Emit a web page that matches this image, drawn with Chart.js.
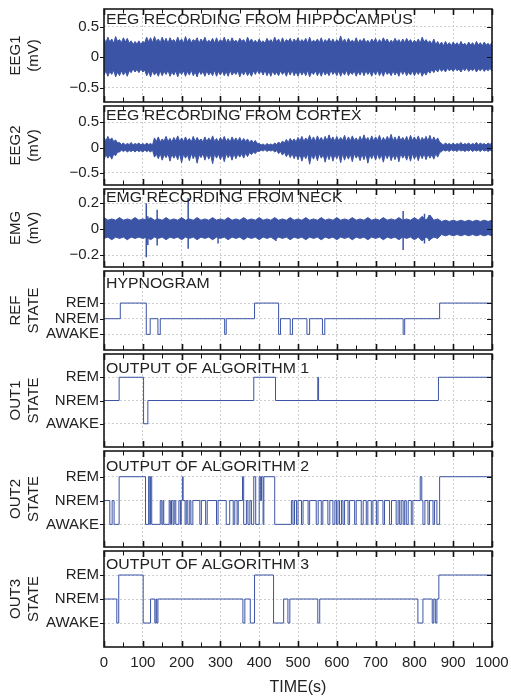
<!DOCTYPE html>
<html>
<head>
<meta charset="utf-8">
<script src="https://cdn.jsdelivr.net/npm/chart.js@4.4.0/dist/chart.umd.min.js"></script>
<style>
  html, body { margin: 0; padding: 0; background: #fff; }
  #wrap { position: relative; width: 511px; height: 698px; overflow: hidden; }
  #wrap canvas { position: absolute; left: 0; }
</style>
</head>
<body>
<div id="wrap"></div>
<script>
// ---- data ----
// envelopes of the raw EEG traces, one value every 5 s from 0 to 1000 s
const eegTimes = Array.from({ length: 201 }, (_, i) => i * 5);

const eeg1Upper = [
  0.31, 0.24, 0.33, 0.25, 0.30, 0.23, 0.34, 0.26, 0.29, 0.24, 0.32, 0.25, 0.31, 0.23, 0.27, 0.21, 0.26, 0.22, 0.27, 0.21,
  0.26, 0.24, 0.33, 0.25, 0.32, 0.24, 0.34, 0.26, 0.30, 0.24, 0.33, 0.25, 0.31, 0.23, 0.32, 0.26, 0.29, 0.24, 0.33, 0.25,
  0.30, 0.23, 0.34, 0.25, 0.31, 0.24, 0.29, 0.26, 0.32, 0.23, 0.30, 0.25, 0.33, 0.24, 0.28, 0.25, 0.31, 0.23, 0.32, 0.24,
  0.29, 0.25, 0.33, 0.24, 0.30, 0.23, 0.32, 0.25, 0.28, 0.24, 0.31, 0.26, 0.29, 0.23, 0.33, 0.25, 0.30, 0.24, 0.28, 0.23,
  0.30, 0.24, 0.27, 0.23, 0.31, 0.25, 0.29, 0.24, 0.33, 0.25, 0.30, 0.23, 0.32, 0.24, 0.29, 0.26, 0.31, 0.23, 0.30, 0.25,
  0.32, 0.24, 0.29, 0.25, 0.31, 0.23, 0.33, 0.24, 0.28, 0.25, 0.30, 0.24, 0.32, 0.23, 0.29, 0.25, 0.31, 0.24, 0.30, 0.23,
  0.29, 0.25, 0.35, 0.24, 0.30, 0.23, 0.31, 0.25, 0.28, 0.24, 0.32, 0.23, 0.29, 0.25, 0.31, 0.24, 0.28, 0.23, 0.30, 0.25,
  0.31, 0.23, 0.29, 0.24, 0.32, 0.25, 0.30, 0.23, 0.28, 0.24, 0.31, 0.25, 0.29, 0.23, 0.30, 0.24, 0.31, 0.25, 0.29, 0.23,
  0.28, 0.24, 0.30, 0.23, 0.33, 0.25, 0.29, 0.24, 0.27, 0.22, 0.30, 0.21, 0.26, 0.20, 0.25, 0.19, 0.26, 0.20, 0.24, 0.19,
  0.25, 0.20, 0.24, 0.19, 0.26, 0.20, 0.23, 0.19, 0.25, 0.20, 0.24, 0.19, 0.26, 0.20, 0.24, 0.19, 0.25, 0.20, 0.23, 0.19, 0.25];
const eeg1Lower = [
  -0.29, -0.22, -0.31, -0.23, -0.28, -0.21, -0.32, -0.24, -0.30, -0.22, -0.29, -0.23, -0.31, -0.22, -0.25, -0.19, -0.24, -0.20, -0.25, -0.19,
  -0.24, -0.21, -0.30, -0.23, -0.32, -0.22, -0.29, -0.24, -0.31, -0.22, -0.30, -0.23, -0.28, -0.21, -0.31, -0.24, -0.29, -0.22, -0.32, -0.23,
  -0.28, -0.22, -0.31, -0.23, -0.29, -0.21, -0.30, -0.24, -0.32, -0.22, -0.28, -0.23, -0.31, -0.22, -0.29, -0.24, -0.30, -0.21, -0.31, -0.23,
  -0.29, -0.22, -0.30, -0.23, -0.31, -0.21, -0.29, -0.24, -0.28, -0.22, -0.32, -0.23, -0.29, -0.22, -0.30, -0.24, -0.31, -0.22, -0.28, -0.21,
  -0.27, -0.22, -0.29, -0.21, -0.30, -0.23, -0.31, -0.22, -0.29, -0.24, -0.30, -0.22, -0.28, -0.23, -0.31, -0.22, -0.29, -0.21, -0.30, -0.23,
  -0.31, -0.22, -0.29, -0.23, -0.30, -0.21, -0.32, -0.24, -0.28, -0.22, -0.30, -0.23, -0.31, -0.22, -0.29, -0.24, -0.30, -0.21, -0.28, -0.23,
  -0.30, -0.22, -0.31, -0.23, -0.29, -0.21, -0.30, -0.24, -0.28, -0.22, -0.31, -0.23, -0.29, -0.21, -0.30, -0.22, -0.28, -0.23, -0.31, -0.22,
  -0.29, -0.21, -0.30, -0.23, -0.31, -0.22, -0.28, -0.24, -0.30, -0.22, -0.29, -0.23, -0.31, -0.21, -0.28, -0.22, -0.30, -0.24, -0.29, -0.22,
  -0.30, -0.23, -0.28, -0.22, -0.31, -0.24, -0.29, -0.22, -0.26, -0.20, -0.25, -0.19, -0.24, -0.18, -0.23, -0.19, -0.24, -0.18, -0.22, -0.19,
  -0.23, -0.18, -0.22, -0.19, -0.24, -0.18, -0.22, -0.17, -0.23, -0.19, -0.22, -0.18, -0.24, -0.19, -0.22, -0.18, -0.23, -0.19, -0.22, -0.18, -0.23];

const eeg2Upper = [
  0.20, 0.13, 0.22, 0.14, 0.19, 0.12, 0.15, 0.09, 0.10, 0.06, 0.09, 0.05, 0.08, 0.06, 0.10, 0.05, 0.08, 0.06, 0.09, 0.05,
  0.08, 0.05, 0.09, 0.06, 0.08, 0.05, 0.19, 0.12, 0.21, 0.11, 0.17, 0.13, 0.22, 0.12, 0.18, 0.11, 0.20, 0.13, 0.23, 0.12,
  0.19, 0.12, 0.21, 0.13, 0.18, 0.11, 0.22, 0.12, 0.20, 0.13, 0.17, 0.11, 0.21, 0.12, 0.19, 0.13, 0.23, 0.12, 0.18, 0.11,
  0.20, 0.13, 0.22, 0.12, 0.18, 0.11, 0.21, 0.13, 0.19, 0.12, 0.20, 0.11, 0.18, 0.12, 0.17, 0.10, 0.15, 0.09, 0.14, 0.08,
  0.08, 0.05, 0.07, 0.04, 0.08, 0.05, 0.07, 0.05, 0.09, 0.06, 0.11, 0.07, 0.13, 0.09, 0.16, 0.10, 0.18, 0.12, 0.17, 0.11,
  0.20, 0.13, 0.22, 0.12, 0.19, 0.14, 0.24, 0.13, 0.21, 0.12, 0.23, 0.14, 0.20, 0.12, 0.22, 0.13, 0.25, 0.14, 0.21, 0.12,
  0.22, 0.13, 0.20, 0.14, 0.24, 0.12, 0.21, 0.13, 0.23, 0.14, 0.19, 0.12, 0.22, 0.13, 0.25, 0.14, 0.20, 0.12, 0.23, 0.13,
  0.21, 0.14, 0.24, 0.12, 0.20, 0.13, 0.22, 0.14, 0.26, 0.13, 0.21, 0.12, 0.23, 0.14, 0.20, 0.13, 0.22, 0.12, 0.24, 0.14,
  0.21, 0.13, 0.23, 0.12, 0.20, 0.14, 0.22, 0.13, 0.24, 0.12, 0.21, 0.13, 0.19, 0.11, 0.08, 0.05, 0.09, 0.06, 0.08, 0.05,
  0.09, 0.05, 0.08, 0.06, 0.10, 0.05, 0.08, 0.06, 0.09, 0.05, 0.08, 0.06, 0.10, 0.05, 0.09, 0.06, 0.08, 0.05, 0.09, 0.06, 0.10];
const eeg2Lower = [
  -0.24, -0.14, -0.21, -0.15, -0.23, -0.13, -0.16, -0.09, -0.09, -0.05, -0.08, -0.05, -0.09, -0.06, -0.08, -0.05, -0.09, -0.05, -0.08, -0.06,
  -0.09, -0.05, -0.08, -0.06, -0.09, -0.05, -0.19, -0.13, -0.22, -0.12, -0.25, -0.14, -0.20, -0.12, -0.27, -0.13, -0.21, -0.14, -0.24, -0.12,
  -0.30, -0.13, -0.21, -0.14, -0.26, -0.12, -0.22, -0.13, -0.31, -0.14, -0.20, -0.12, -0.25, -0.13, -0.23, -0.14, -0.32, -0.12, -0.21, -0.13,
  -0.24, -0.14, -0.28, -0.12, -0.20, -0.13, -0.25, -0.12, -0.22, -0.13, -0.19, -0.12, -0.21, -0.11, -0.18, -0.10, -0.14, -0.09, -0.12, -0.07,
  -0.08, -0.05, -0.07, -0.04, -0.08, -0.05, -0.07, -0.05, -0.09, -0.06, -0.12, -0.08, -0.15, -0.09, -0.18, -0.11, -0.20, -0.12, -0.22, -0.13,
  -0.24, -0.13, -0.27, -0.14, -0.22, -0.12, -0.33, -0.14, -0.23, -0.13, -0.26, -0.12, -0.21, -0.14, -0.29, -0.13, -0.24, -0.12, -0.27, -0.14,
  -0.22, -0.13, -0.30, -0.12, -0.25, -0.14, -0.23, -0.13, -0.28, -0.12, -0.21, -0.14, -0.26, -0.13, -0.24, -0.12, -0.31, -0.14, -0.22, -0.13,
  -0.25, -0.12, -0.23, -0.14, -0.29, -0.13, -0.22, -0.12, -0.26, -0.14, -0.24, -0.13, -0.28, -0.12, -0.21, -0.14, -0.25, -0.13, -0.27, -0.12,
  -0.23, -0.14, -0.26, -0.13, -0.22, -0.12, -0.24, -0.13, -0.21, -0.14, -0.23, -0.12, -0.19, -0.10, -0.08, -0.05, -0.07, -0.05, -0.08, -0.04,
  -0.07, -0.05, -0.08, -0.04, -0.07, -0.05, -0.08, -0.05, -0.07, -0.04, -0.08, -0.05, -0.07, -0.05, -0.08, -0.04, -0.07, -0.05, -0.08, -0.05, -0.07];

// EMG envelope, one value every 10 s
const emgTimes = Array.from({ length: 101 }, (_, i) => i * 10);
const emgUpper = [0.09, 0.07, 0.08, 0.07, 0.09, 0.07, 0.08, 0.07, 0.09, 0.07, 0.08,
  0.07, 0.09, 0.07, 0.08, 0.07, 0.09, 0.07, 0.08, 0.07, 0.09,
  0.07, 0.08, 0.07, 0.09, 0.07, 0.08, 0.07, 0.09, 0.07, 0.08,
  0.07, 0.09, 0.07, 0.08, 0.07, 0.09, 0.07, 0.08, 0.07, 0.09,
  0.07, 0.08, 0.07, 0.09, 0.07, 0.08, 0.07, 0.09, 0.07, 0.08,
  0.07, 0.09, 0.07, 0.08, 0.07, 0.09, 0.07, 0.08, 0.07, 0.09,
  0.07, 0.08, 0.07, 0.09, 0.07, 0.08, 0.07, 0.09, 0.07, 0.08,
  0.07, 0.09, 0.07, 0.08, 0.07, 0.09, 0.07, 0.08, 0.07, 0.09,
  0.07, 0.10, 0.07, 0.11, 0.07, 0.08,
  0.06, 0.07, 0.06, 0.07, 0.06, 0.07, 0.06, 0.07, 0.06, 0.07, 0.06, 0.07, 0.06, 0.07];
const emgLower = [-0.07, -0.06, -0.08, -0.06, -0.07, -0.06, -0.08, -0.06, -0.07, -0.06, -0.07,
  -0.06, -0.08, -0.06, -0.07, -0.06, -0.08, -0.06, -0.07, -0.06, -0.08,
  -0.06, -0.07, -0.06, -0.08, -0.06, -0.07, -0.06, -0.08, -0.06, -0.07,
  -0.06, -0.08, -0.06, -0.07, -0.06, -0.08, -0.06, -0.07, -0.06, -0.08,
  -0.06, -0.07, -0.06, -0.08, -0.06, -0.07, -0.06, -0.08, -0.06, -0.07,
  -0.06, -0.08, -0.06, -0.07, -0.06, -0.08, -0.06, -0.07, -0.06, -0.08,
  -0.06, -0.07, -0.06, -0.08, -0.06, -0.07, -0.06, -0.08, -0.06, -0.07,
  -0.06, -0.08, -0.06, -0.07, -0.06, -0.08, -0.06, -0.07, -0.06, -0.08,
  -0.06, -0.09, -0.06, -0.08, -0.06, -0.07,
  -0.04, -0.05, -0.04, -0.05, -0.04, -0.05, -0.04, -0.05, -0.04, -0.05, -0.04, -0.05, -0.04, -0.05];

// isolated EMG artefacts (s, low mV, high mV)
const emgSpikeTimes = [109, 113, 137, 217, 294, 443, 771, 826, 838];
const emgSpikeLow = [-0.215, -0.12, -0.125, -0.15, -0.11, -0.09, -0.16, -0.11, -0.09];
const emgSpikeHigh = [0.20, 0.10, 0.15, 0.24, 0.08, 0.08, 0.14, 0.12, 0.11];

// state sequences: time (s) at which each state starts; 1 = AWAKE, 2 = NREM, 3 = REM
const refTimes = [0, 42, 109, 119, 139, 145, 311, 315, 388, 450, 455, 480, 486, 523, 530, 563, 569, 771, 775, 865, 1000];
const refStates = [2, 3, 1, 2, 1, 2, 1, 2, 3, 1, 2, 1, 2, 1, 2, 1, 2, 1, 2, 3, 3];

const out1Times = [0, 39, 102, 113, 386, 442, 551, 553, 862, 1000];
const out1States = [2, 3, 1, 2, 3, 2, 3, 2, 3, 3];

const out2Times = [0, 15, 21, 26, 39, 107, 115, 118, 120, 123, 145, 149, 152, 154, 168, 171, 174, 178, 181, 185,
  193, 197, 199, 202, 204, 209, 212, 216, 221, 224, 229, 247, 251, 262, 266, 290, 294, 315, 324, 333,
  337, 343, 346, 357, 360, 367, 371, 376, 380, 386, 391, 400, 403, 406, 410, 412, 440, 483, 487, 491,
  496, 500, 509, 513, 526, 530, 547, 552, 560, 564, 577, 582, 590, 595, 599, 603, 607, 612, 616, 620,
  629, 633, 646, 650, 663, 668, 676, 680, 689, 693, 702, 706, 719, 723, 736, 741, 753, 758, 762, 766,
  771, 775, 779, 784, 792, 796, 815, 819, 822, 827, 835, 839, 848, 852, 858, 865, 1000];
const out2States = [2, 1, 2, 1, 3, 1, 3, 1, 3, 1, 2, 1, 2, 1, 2, 1, 2, 1, 2, 1,
  2, 1, 2, 3, 2, 1, 2, 1, 2, 1, 2, 1, 2, 1, 2, 1, 2, 1, 2, 1,
  2, 1, 2, 3, 1, 2, 1, 2, 1, 3, 1, 3, 2, 3, 1, 3, 1, 2, 1, 2,
  1, 2, 1, 2, 1, 2, 1, 2, 1, 2, 1, 2, 1, 2, 1, 2, 1, 2, 1, 2,
  1, 2, 1, 2, 1, 2, 1, 2, 1, 2, 1, 2, 1, 2, 1, 2, 1, 2, 1, 2,
  1, 2, 1, 2, 1, 2, 3, 2, 1, 2, 1, 2, 1, 2, 1, 3, 3];

const out3Times = [0, 33, 38, 101, 120, 131, 134, 136, 139, 358, 363, 377, 388, 437, 463, 474, 479, 551, 556,
  809, 822, 846, 850, 854, 858, 863, 1000];
const out3States = [2, 1, 3, 1, 2, 1, 2, 1, 2, 1, 2, 1, 3, 1, 2, 1, 2, 1, 2,
  1, 2, 1, 2, 1, 2, 3, 3];

const stateNames = { 1: 'AWAKE', 2: 'NREM', 3: 'REM' };

// ---- drawing ----
const BLUE = '#3b54a6';
const FONT = '"Liberation Sans", Arial, Helvetica, sans-serif';
Chart.defaults.font.family = FONT;
Chart.defaults.color = '#222';

const pts = (xs, ys) => xs.map((t, i) => ({ x: t, y: ys[i] }));

function bandSets(times, upper, lower) {
  return [
    { data: pts(times, upper), borderColor: BLUE, backgroundColor: BLUE, borderWidth: 1, pointRadius: 0, fill: '+1' },
    { data: pts(times, lower), borderColor: BLUE, borderWidth: 1, pointRadius: 0, fill: false }
  ];
}
function stepSet(times, states) {
  return [{ data: pts(times, states), borderColor: BLUE, borderWidth: 1, pointRadius: 0, stepped: 'before', fill: false }];
}

// spikes: vertical strokes from low to high, broken apart by gaps
const spikeData = [];
emgSpikeTimes.forEach((t, i) => {
  spikeData.push({ x: t, y: emgSpikeLow[i] }, { x: t, y: emgSpikeHigh[i] }, { x: t, y: null });
});
const emgSets = bandSets(emgTimes, emgUpper, emgLower).concat([{
  data: spikeData, borderColor: BLUE, borderWidth: 1.5, pointRadius: 0, spanGaps: false, fill: false
}]);

const panels = [
  { top: 7, bottom: 104, title: 'EEG RECORDING FROM HIPPOCAMPUS', tOff: 4.5, yTitle: ['EEG1', '(mV)'],
    min: -0.73, max: 0.79, ticks: [-0.5, 0, 0.5], sets: bandSets(eegTimes, eeg1Upper, eeg1Lower) },
  { top: 104, bottom: 187, title: 'EEG RECORDING FROM CORTEX', tOff: 4, yTitle: ['EEG2', '(mV)'],
    min: -0.74, max: 0.82, ticks: [-0.5, 0, 0.5], sets: bandSets(eegTimes, eeg2Upper, eeg2Lower) },
  { top: 187, bottom: 269, title: 'EMG RECORDING FROM NECK', tOff: 3, yTitle: ['EMG', '(mV)'],
    min: -0.29, max: 0.31, ticks: [-0.2, 0, 0.2], sets: emgSets },
  { top: 269, bottom: 352, title: 'HYPNOGRAM', tOff: 7, yTitle: ['REF', 'STATE'], state: true,
    min: 0, max: 5.05, ticks: [1, 2, 3], sets: stepSet(refTimes, refStates) },
  { top: 352, bottom: 449, title: 'OUTPUT OF ALGORITHM 1', tOff: 9, yTitle: ['OUT1', 'STATE'], state: true,
    min: 0, max: 4, ticks: [1, 2, 3], sets: stepSet(out1Times, out1States) },
  { top: 449, bottom: 549, title: 'OUTPUT OF ALGORITHM 2', tOff: 10, yTitle: ['OUT2', 'STATE'], state: true,
    min: 0.05, max: 4.08, ticks: [1, 2, 3], sets: stepSet(out2Times, out2States) },
  { top: 549, bottom: 647, title: 'OUTPUT OF ALGORITHM 3', tOff: 8, yTitle: ['OUT3', 'STATE'], state: true,
    min: 0, max: 4, ticks: [1, 2, 3], sets: stepSet(out3Times, out3States), last: true }
];

const frame = {
  id: 'frame',
  afterDraw(chart, args, opts) {
    const { ctx, chartArea: a, scales: { x, y } } = chart;
    ctx.save();
    // panel caption, slightly widened like the original lettering
    ctx.fillStyle = '#222';
    ctx.font = '14px ' + FONT;
    ctx.textBaseline = 'alphabetic';
    ctx.save();
    ctx.translate(a.left + 2, a.top + opts.tOff + 10);
    ctx.scale(1.13, 1);
    ctx.fillText(opts.title, 0, 0);
    ctx.restore();

    ctx.strokeStyle = '#111';
    // x ticks, inward on top and bottom, minor ones half way
    const majors = x.ticks.map(t => t.value);
    majors.forEach((v, i) => {
      const marks = [[v, true]];
      if (i < majors.length - 1) marks.push([(v + majors[i + 1]) / 2, false]);
      marks.forEach(([val, major]) => {
        const px = Math.round(x.getPixelForValue(val)) + 0.5;
        const len = major ? 6 : 4.5;
        ctx.lineWidth = major ? 1.6 : 1;
        ctx.beginPath();
        ctx.moveTo(px, a.top); ctx.lineTo(px, a.top + len);
        ctx.moveTo(px, a.bottom); ctx.lineTo(px, a.bottom - len);
        ctx.stroke();
      });
    });
    // y ticks: outward on the left, inward on the right
    ctx.lineWidth = 1;
    y.ticks.forEach(t => {
      const py = Math.round(y.getPixelForValue(t.value)) + 0.5;
      ctx.beginPath();
      ctx.moveTo(a.left - 4, py); ctx.lineTo(a.left, py);
      ctx.moveTo(a.right, py); ctx.lineTo(a.right - 5, py);
      ctx.stroke();
    });
    // box
    ctx.lineWidth = 1.6;
    ctx.strokeStyle = '#1a1a1a';
    ctx.strokeRect(a.left, a.top, a.right - a.left, a.bottom - a.top);
    ctx.restore();
  }
};

const PAD = 12;
const W = 511, H = 698;
const LEFT = 104, RIGHT = 492;
const wrap = document.getElementById('wrap');

panels.forEach(p => {
  const canvas = document.createElement('canvas');
  const cTop = p.top - PAD;
  const cH = p.last ? H - cTop : p.bottom - p.top + 2 * PAD;
  canvas.width = W; canvas.height = cH;
  canvas.style.top = cTop + 'px';
  canvas.style.width = W + 'px'; canvas.style.height = cH + 'px';
  wrap.appendChild(canvas);

  new Chart(canvas, {
    type: 'line',
    data: { datasets: p.sets },
    options: {
      responsive: false,
      animation: false,
      devicePixelRatio: 1,
      events: [],
      layout: { padding: { left: 0, right: W - RIGHT, top: PAD, bottom: p.last ? 0 : PAD } },
      plugins: {
        legend: { display: false },
        tooltip: { enabled: false },
        frame: { title: p.title, tOff: p.tOff }
      },
      scales: {
        x: {
          type: 'linear', min: 0, max: 1000,
          ticks: {
            display: !!p.last, stepSize: 100, autoSkip: false, maxRotation: 0, padding: 7,
            font: { size: 15 }, color: '#222', callback: v => String(v)
          },
          grid: { color: '#cfcfcf', lineWidth: 1, drawTicks: false },
          border: { display: false, dash: [2, 2] },
          title: { display: !!p.last, text: 'TIME(s)', font: { size: 16 }, color: '#222', padding: { top: 0, bottom: 1 } },
          afterFit: s => {
            s.height = p.last ? H - p.bottom : 0;
            s.paddingLeft = 0; s.paddingRight = 0;
          }
        },
        y: {
          min: p.min, max: p.max,
          afterBuildTicks: s => { s.ticks = p.ticks.map(v => ({ value: v })); },
          ticks: {
            padding: 5, font: { size: 15 }, color: '#222',
            callback: v => p.state ? stateNames[v] : (v === 0 ? '0' : (v < 0 ? '\u2212' : '') + Math.abs(v))
          },
          grid: { color: '#cfcfcf', lineWidth: 1, drawTicks: false },
          border: { display: false, dash: [2, 2] },
          title: { display: true, text: p.yTitle, font: { size: 15, lineHeight: 1.2 }, color: '#222', padding: { top: 7, bottom: 0 } },
          afterFit: s => { s.width = LEFT; }
        }
      }
    },
    plugins: [frame]
  });
});
</script>
</body>
</html>
